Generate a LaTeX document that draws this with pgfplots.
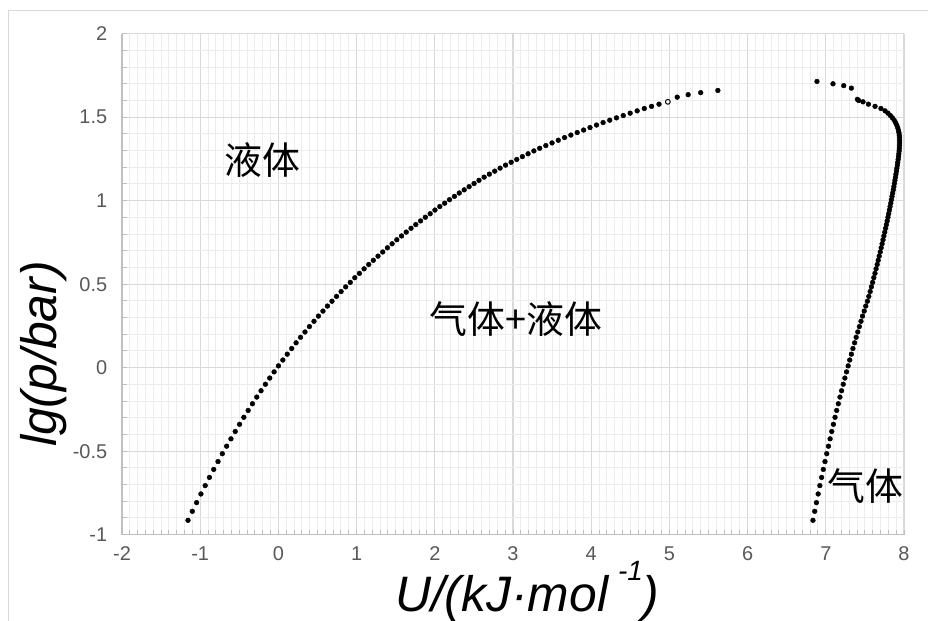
\documentclass[border=0pt]{standalone}
\usepackage{fontspec}
\setmainfont{Liberation Sans}
\newfontfamily\cjk{Noto Sans CJK SC}
\usepackage{pgfplots}
\pgfplotsset{compat=1.18}
\usepackage{pgfplotstable}
\definecolor{tickgray}{HTML}{595959}
\definecolor{axisgray}{HTML}{BFBFBF}
\definecolor{majgrid}{HTML}{D9D9D9}
\definecolor{mingrid}{HTML}{ECECEC}

\pgfplotstableread{
x y
-1.156 -0.914
-1.101 -0.860
-1.046 -0.808
-0.991 -0.756
-0.936 -0.706
-0.882 -0.657
-0.827 -0.609
-0.772 -0.562
-0.717 -0.515
-0.662 -0.470
-0.607 -0.426
-0.552 -0.382
-0.497 -0.339
-0.442 -0.297
-0.387 -0.256
-0.332 -0.216
-0.277 -0.176
-0.222 -0.138
-0.166 -0.099
-0.111 -0.062
-0.055 -0.025
0.001 0.011
0.057 0.046
0.113 0.081
0.170 0.115
0.226 0.149
0.283 0.182
0.340 0.214
0.397 0.246
0.455 0.278
0.512 0.309
0.570 0.339
0.627 0.369
0.685 0.398
0.743 0.427
0.802 0.456
0.860 0.484
0.919 0.511
0.977 0.539
1.036 0.565
1.096 0.592
1.155 0.618
1.214 0.643
1.274 0.668
1.334 0.693
1.394 0.718
1.454 0.742
1.514 0.766
1.575 0.789
1.635 0.812
1.696 0.835
1.757 0.857
1.818 0.879
1.879 0.901
1.941 0.922
2.002 0.944
2.064 0.965
2.126 0.985
2.188 1.006
2.251 1.026
2.313 1.046
2.376 1.065
2.439 1.084
2.502 1.103
2.565 1.122
2.631 1.141
2.698 1.159
2.766 1.177
2.835 1.195
2.905 1.213
2.976 1.230
3.048 1.247
3.120 1.264
3.193 1.281
3.267 1.298
3.341 1.314
3.420 1.330
3.499 1.346
3.579 1.362
3.659 1.378
3.740 1.393
3.821 1.408
3.903 1.423
3.985 1.438
4.068 1.453
4.152 1.468
4.237 1.482
4.323 1.496
4.410 1.510
4.498 1.524
4.588 1.538
4.679 1.552
4.772 1.565
4.867 1.578
5.10 1.620
5.24 1.635
5.40 1.647
5.62 1.660
}\liquid

\pgfplotstableread{
x y
6.836 -0.914
6.858 -0.860
6.880 -0.808
6.902 -0.756
6.924 -0.706
6.946 -0.657
6.968 -0.609
6.990 -0.562
7.012 -0.515
7.034 -0.470
7.055 -0.426
7.076 -0.382
7.097 -0.339
7.118 -0.297
7.139 -0.256
7.160 -0.216
7.181 -0.176
7.202 -0.138
7.223 -0.099
7.244 -0.062
7.265 -0.025
7.286 0.011
7.306 0.046
7.327 0.081
7.347 0.115
7.368 0.149
7.388 0.182
7.409 0.214
7.429 0.246
7.450 0.278
7.470 0.309
7.491 0.339
7.511 0.369
7.532 0.398
7.550 0.427
7.567 0.456
7.583 0.484
7.599 0.511
7.614 0.539
7.629 0.565
7.643 0.592
7.657 0.618
7.670 0.643
7.683 0.668
7.696 0.693
7.708 0.718
7.720 0.742
7.732 0.766
7.743 0.789
7.754 0.812
7.765 0.835
7.775 0.857
7.785 0.879
7.795 0.901
7.804 0.922
7.813 0.944
7.822 0.965
7.831 0.985
7.839 1.006
7.847 1.026
7.855 1.046
7.863 1.065
7.870 1.084
7.877 1.103
7.884 1.122
7.891 1.141
7.897 1.159
7.903 1.177
7.909 1.195
7.915 1.213
7.920 1.230
7.925 1.247
7.930 1.264
7.934 1.281
7.938 1.298
7.941 1.314
7.943 1.330
7.944 1.346
7.944 1.362
7.943 1.378
7.940 1.393
7.935 1.408
7.928 1.423
7.919 1.438
7.907 1.453
7.892 1.468
7.874 1.482
7.852 1.496
7.826 1.510
7.795 1.524
7.758 1.538
7.705 1.552
7.630 1.565
7.545 1.578
7.476 1.592
7.420 1.600
7.404 1.607
7.327 1.674
7.229 1.689
7.092 1.700
6.887 1.714
}\gas

\begin{document}
\begin{tikzpicture}
\useasboundingbox (0,0) rectangle (928bp,621bp);
\fill[white] (0,0) rectangle (928bp,621bp);
\draw[majgrid, line width=1bp] (8bp,0) -- (8bp,610.5bp) -- (928bp,610.5bp);
\begin{axis}[
  at={(122bp,86.3bp)}, anchor=south west,
  scale only axis, width=782bp, height=501bp,
  xmin=-2, xmax=8, ymin=-1, ymax=2,
  xtick={-2,-1,0,1,2,3,4,5,6,7,8},
  ytick={-1,-0.5,0,0.5,1,1.5,2},
  minor x tick num=9, minor y tick num=4,
  grid=both,
  major grid style={majgrid, line width=1.1bp},
  minor grid style={mingrid, line width=1bp},
  axis x line*=bottom, axis y line*=left,
  axis line style={-, axisgray, line width=1.4bp},
  tick align=inside,
  major tick length=4.5bp, minor tick length=4.5bp,
  tick style={axisgray, line width=1bp},
  tick label style={font=\fontsize{20}{20}\selectfont, text=tickgray},
  /pgf/number format/assume math mode=true,
  xticklabel style={yshift=-8.5bp},
  yticklabel style={xshift=-11.3bp},
  xlabel={U/(kJ·mol\hspace{10bp}\raisebox{31bp}{\fontsize{28}{28}\selectfont -1})},
  xlabel style={at={(axis description cs:0.349,-0.154)}, anchor=base west, font=\fontsize{50}{50}\selectfont\itshape, inner sep=0pt},
  ylabel={lg(p/bar)},
  ylabel style={at={(axis description cs:-0.0844,0.175)}, anchor=base west, font=\fontsize{50}{50}\selectfont\itshape, inner sep=0pt},
  clip=false,
]
\addplot[only marks, mark=*, mark size=2.4bp, black] table {\liquid};
\addplot[only marks, mark=*, mark size=2.4bp, mark options={draw=black, fill=white, line width=1bp}] coordinates {(4.98,1.592)};
\addplot[only marks, mark=*, mark size=2.4bp, black] table {\gas};
\node[font=\cjk\fontsize{38}{38}\selectfont] at (axis cs:-0.20,1.244) {液体};
\node[font=\cjk\fontsize{38}{38}\selectfont] at (axis cs:3.04,0.292) {气体+液体};
\node[font=\cjk\fontsize{38}{38}\selectfont] at (axis cs:7.51,-0.711) {气体};
\end{axis}
\end{tikzpicture}
\end{document}
